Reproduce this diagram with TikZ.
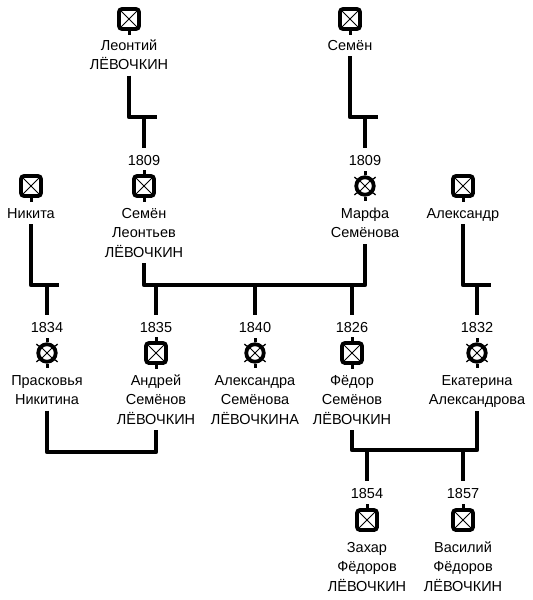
\documentclass[tikz,border=0pt]{standalone}
\usepackage{fontspec}
\setmainfont{Liberation Sans}
\usetikzlibrary{calc}
\newcommand\ppl[1]{\begin{tabular}[t]{@{}c@{}}#1\end{tabular}}
\begin{document}
\begin{tikzpicture}[x=1pt,y=-1pt,
  txt/.style={font=\fontsize{14.5}{19.5}\selectfont, inner sep=0, anchor=base},
  yr/.style={font=\fontsize{14.5}{19.5}\selectfont, inner sep=0, anchor=base, text height=10pt, text depth=0pt},
  xcross/.style={path picture={\draw[line width=0.9pt]
     (path picture bounding box.south west) -- (path picture bounding box.north east)
     (path picture bounding box.north west) -- (path picture bounding box.south east);}},
  male/.style={draw, fill=white, line width=3.8pt, rounded corners=3pt, minimum size=20pt, inner sep=0, xcross},
  female/.style={draw, fill=white, circle, line width=3.8pt, minimum size=17.5pt, inner sep=0, xcross},
  stub/.style={line width=3pt},
  tick/.style={line width=1.3pt},
  line/.style={line width=4.5pt, line join=round},
  drop/.style={line width=4.5pt, shorten >=7pt}]
\useasboundingbox[fill=white] (0,0) rectangle (533,600);

% ---- bars
\coordinate (b1) at (0,117);
\coordinate (b2) at (0,285);
\coordinate (b3) at (0,452);
\coordinate (b4) at (0,450);

% ---- row 1
\node[male] (leo) at (129,19) {};
\node[txt] (leo-n) at (129,50) {\ppl{Леонтий\\ЛЁВОЧКИН}};
\node[male] (semT) at (350,19) {};
\node[txt] (semT-n) at (350,50) {\ppl{Семён}};

% ---- row 2
\node[male] (nik) at (31,186) {};
\node[txt] (nik-n) at (31,218) {\ppl{Никита}};
\node[yr] (semL-y) at (144,165) {1809};
\node[male] (semL) at (144,186) {};
\node[txt] (semL-n) at (144,218) {\ppl{Семён\\Леонтьев\\ЛЁВОЧКИН}};
\node[yr] (marfa-y) at (365,165) {1809};
\node[female] (marfa) at (365,186) {};
\node[txt] (marfa-n) at (365,218) {\ppl{Марфа\\Семёнова}};
\node[male] (alx) at (463,186) {};
\node[txt] (alx-n) at (463,218) {\ppl{Александр}};

% ---- row 3
\node[yr] (pras-y) at (47,332) {1834};
\node[female] (pras) at (47,353) {};
\node[txt] (pras-n) at (47,385) {\ppl{Прасковья\\Никитина}};
\node[yr] (andr-y) at (156,332) {1835};
\node[male] (andr) at (156,353) {};
\node[txt] (andr-n) at (156,385) {\ppl{Андрей\\Семёнов\\ЛЁВОЧКИН}};
\node[yr] (alxa-y) at (255,332) {1840};
\node[female] (alxa) at (255,353) {};
\node[txt] (alxa-n) at (255,385) {\ppl{Александра\\Семёнова\\ЛЁВОЧКИНА}};
\node[yr] (fed-y) at (352,332) {1826};
\node[male] (fed) at (352,353) {};
\node[txt] (fed-n) at (352,385) {\ppl{Фёдор\\Семёнов\\ЛЁВОЧКИН}};
\node[yr] (ekat-y) at (477,332) {1832};
\node[female] (ekat) at (477,353) {};
\node[txt] (ekat-n) at (477,385) {\ppl{Екатерина\\Александрова}};

% ---- row 4
\node[yr] (zah-y) at (367,498) {1854};
\node[male] (zah) at (367,520) {};
\node[txt] (zah-n) at (367,552) {\ppl{Захар\\Фёдоров\\ЛЁВОЧКИН}};
\node[yr] (vas-y) at (463,498) {1857};
\node[male] (vas) at (463,520) {};
\node[txt] (vas-n) at (463,552) {\ppl{Василий\\Фёдоров\\ЛЁВОЧКИН}};

% ---- icon stubs
\foreach \n in {semL,marfa,pras,andr,alxa,fed,ekat,zah,vas}
  \draw[stub] (\n.north) -- ++(0,-4);
\foreach \n in {leo,semT,nik,semL,marfa,alx,pras,andr,alxa,fed,ekat}
  \draw[stub] (\n.south) -- ++(0,4);
\foreach \n in {marfa,pras,alxa,ekat}
  \foreach \a in {40,140,220,320}
    \draw[tick] (\n.\a) -- ($(\n.center)!1.3!(\n.\a)$);

% ---- connectors
\draw[line] (leo-n.south) -- (leo-n.south |- b1) -- ++(28,0);
\draw[drop] (semL-y.north |- b1) -- (semL-y.north);
\draw[line] (semT-n.south) -- (semT-n.south |- b1) -- ++(28,0);
\draw[drop] (marfa-y.north |- b1) -- (marfa-y.north);

\draw[line] (nik-n.south) -- (nik-n.south |- b2) -- ++(28,0);
\draw[drop] (pras-y.north |- b2) -- (pras-y.north);
\draw[line] (alx-n.south) -- (alx-n.south |- b2) -- ++(28,0);
\draw[drop] (ekat-y.north |- b2) -- (ekat-y.north);

\draw[line] (semL-n.south) -- (semL-n.south |- b2) -- (marfa-n.south |- b2) -- (marfa-n.south);
\draw[drop] (andr-y.north |- b2) -- (andr-y.north);
\draw[drop] (alxa-y.north |- b2) -- (alxa-y.north);
\draw[drop] (fed-y.north |- b2) -- (fed-y.north);

\draw[line] (pras-n.south) -- (pras-n.south |- b3) -- (andr-n.south |- b3) -- (andr-n.south);
\draw[line] (fed-n.south) -- (fed-n.south |- b4) -- (ekat-n.south |- b4) -- (ekat-n.south);
\draw[drop] (zah-y.north |- b4) -- (zah-y.north);
\draw[drop] (vas-y.north |- b4) -- (vas-y.north);
\end{tikzpicture}
\end{document}
